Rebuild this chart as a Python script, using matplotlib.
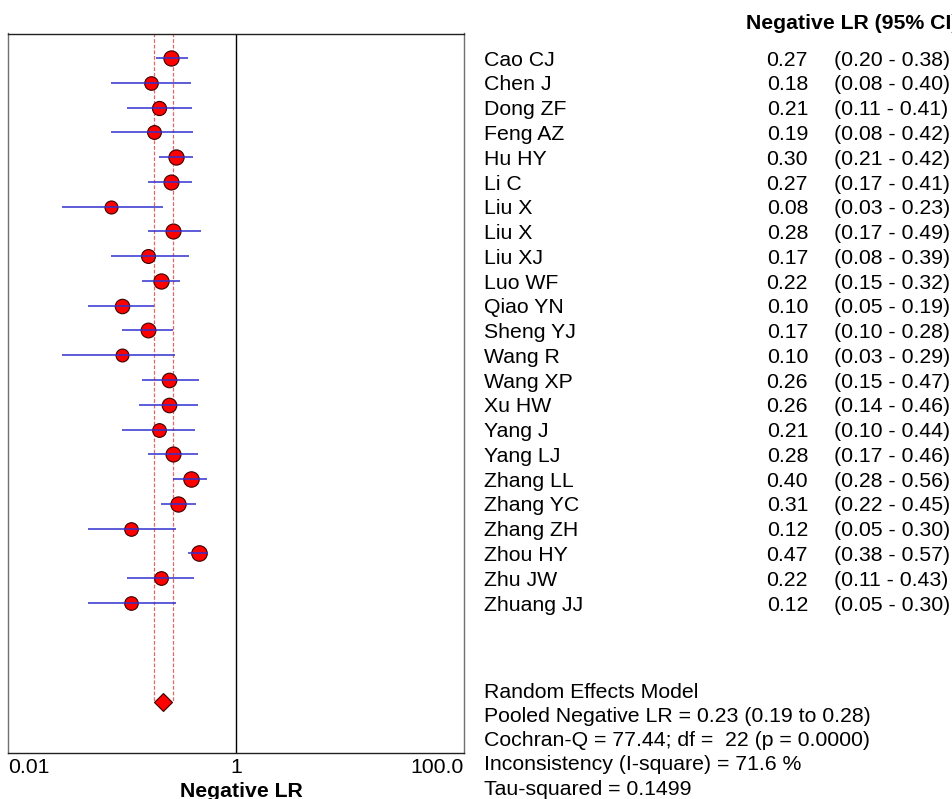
import numpy as np
import matplotlib
matplotlib.use("Agg")
import matplotlib.pyplot as plt
import matplotlib.transforms as mtransforms

plt.rcParams['font.family'] = ['Liberation Sans', 'DejaVu Sans']

studies = ["Cao CJ", "Chen J", "Dong ZF", "Feng AZ", "Hu HY", "Li C", "Liu X", "Liu X",
           "Liu XJ", "Luo WF", "Qiao YN", "Sheng YJ", "Wang R", "Wang XP", "Xu HW",
           "Yang J", "Yang LJ", "Zhang LL", "Zhang YC", "Zhang ZH", "Zhou HY", "Zhu JW",
           "Zhuang JJ"]
lr = [0.27, 0.18, 0.21, 0.19, 0.30, 0.27, 0.08, 0.28, 0.17, 0.22, 0.10, 0.17, 0.10,
      0.26, 0.26, 0.21, 0.28, 0.40, 0.31, 0.12, 0.47, 0.22, 0.12]
ci_lo = [0.20, 0.08, 0.11, 0.08, 0.21, 0.17, 0.03, 0.17, 0.08, 0.15, 0.05, 0.10, 0.03,
         0.15, 0.14, 0.10, 0.17, 0.28, 0.22, 0.05, 0.38, 0.11, 0.05]
ci_hi = [0.38, 0.40, 0.41, 0.42, 0.42, 0.41, 0.23, 0.49, 0.39, 0.32, 0.19, 0.28, 0.29,
         0.47, 0.46, 0.44, 0.46, 0.56, 0.45, 0.30, 0.57, 0.43, 0.30]
# approximate study weights (%)
weights = [5.0, 3.5, 4.0, 3.7, 5.0, 4.8, 3.0, 4.8, 3.8, 5.0, 4.3, 4.6, 2.9, 4.4, 4.4,
           3.6, 4.8, 5.2, 5.0, 3.5, 5.3, 3.6, 3.5]

pooled = 0.23
pooled_lo = 0.19
pooled_hi = 0.28
header = "Negative LR (95% CI)"
xlabel = "Negative LR"
tick_vals = [0.01, 1, 100]
tick_labels = ["0.01", "1", "100.0"]
stats_lines = ["Random Effects Model",
               "Pooled Negative LR = 0.23 (0.19 to 0.28)",
               "Cochran-Q = 77.44; df =  22 (p = 0.0000)",
               "Inconsistency (I-square) = 71.6 %",
               "Tau-squared = 0.1499"]

W, H = 952, 799
FS = 15.3
fig = plt.figure(figsize=(W / 100, H / 100), dpi=100)
ax_l, ax_r, ax_t, ax_b = 8, 464, 33.5, 752.7
ax = fig.add_axes([ax_l / W, 1 - ax_b / H, (ax_r - ax_l) / W, (ax_b - ax_t) / H])
ax.set_xscale('log')
ax.set_xlim(0.01, 100)
n = len(studies)
row_top, row_bot = -0.99, 28.05
ax.set_ylim(row_bot, row_top)
y = np.arange(n)
diamond_row = 26

# pooled CI dashed lines
ax.vlines([pooled_lo, pooled_hi], row_top, diamond_row, colors='#e06868',
          linestyles=(0, (3, 1.5)), lw=0.9, zorder=1)
ax.axvline(1, color='black', lw=1.0, zorder=1)

# study markers
for i in range(n):
    d_px = 12.9 + 1.1 * (weights[i] - 2.9)
    ax.plot(lr[i], y[i], 'o', ms=d_px * 0.72, mfc='#ff0000', mec='#3a0000',
            mew=0.8, zorder=3)
ax.hlines(y, ci_lo, ci_hi, colors='#3030d0', lw=1.1, zorder=4)

# pooled diamond
ax.plot(pooled, diamond_row, 'D', ms=9.6, mfc='#ff0000', mec='#3a0000', mew=0.8, zorder=5)

ax.set_yticks([])
ax.set_xticks(tick_vals)
ax.set_xticklabels(tick_labels, fontsize=FS)
ax.minorticks_off()
ax.tick_params(axis='x', length=0, pad=3.5)
for lab, ha in zip(ax.get_xticklabels(), ['left', 'center', 'right']):
    lab.set_horizontalalignment(ha)
ax.set_xlabel(xlabel, fontsize=FS, fontweight='bold')
ax.xaxis.set_label_coords((241 - ax_l) / (ax_r - ax_l), (ax_b - 796.7) / (ax_b - ax_t))
ax.xaxis.label.set_verticalalignment('baseline')

for side in ['top', 'bottom']:
    ax.spines[side].set_color('#202020')
for side in ['left', 'right']:
    ax.spines[side].set_color('#707070')
for s in ax.spines.values():
    s.set_linewidth(1.0)

# right-hand table
trans = mtransforms.blended_transform_factory(fig.transFigure, ax.transData)
off = 0.31
for i in range(n):
    ax.text(484 / W, y[i] + off, studies[i], transform=trans, fontsize=FS,
            ha='left', va='baseline', clip_on=False)
    ax.text(808 / W, y[i] + off, f"{lr[i]:.2f}", transform=trans, fontsize=FS,
            ha='right', va='baseline', clip_on=False)
    ax.text(834 / W, y[i] + off, f"({ci_lo[i]:.2f} - {ci_hi[i]:.2f})", transform=trans,
            fontsize=FS, ha='left', va='baseline', clip_on=False)

fig.text(746 / W, 1 - 29.4 / H, header, fontsize=FS, fontweight='bold',
         ha='left', va='baseline')

for k, line in enumerate(stats_lines):
    fig.text(484 / W, 1 - (697.7 + 24.25 * k) / H, line, fontsize=FS,
             ha='left', va='baseline')

fig.savefig("out.png", dpi=100)
